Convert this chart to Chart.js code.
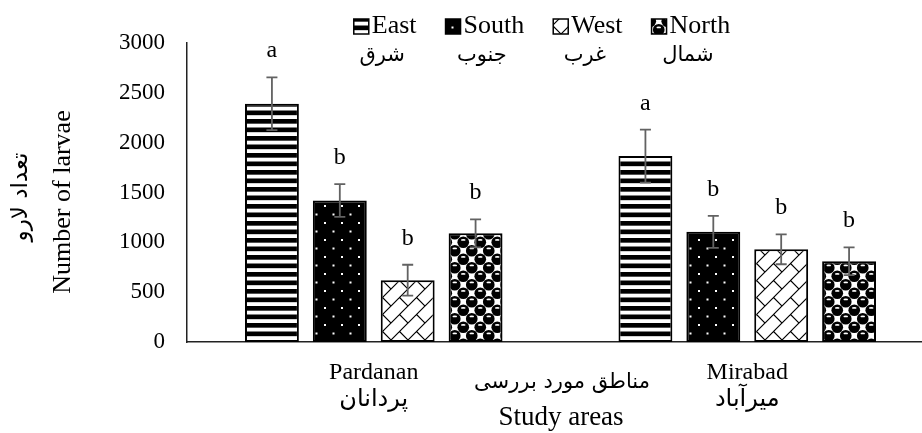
<!DOCTYPE html>
<html>
<head>
<meta charset="utf-8">
<script src="https://cdn.jsdelivr.net/npm/chart.js@4/dist/chart.umd.min.js"></script>
<style>
  html, body { margin: 0; padding: 0; background: #fff; overflow: hidden; }
  #wrap { width: 922px; height: 433px; overflow: hidden; position: relative; }
  canvas { display: block; }
</style>
</head>
<body>
<div id="wrap"><canvas id="c" width="934" height="433"></canvas></div>
<script>
// Larvae counts per study area and direction, with standard errors and significance letters
const categories = ['Pardanan', 'Mirabad'];
const categoriesFa = ['پردانان', 'میرآباد'];
const seriesNames = ['East', 'South', 'West', 'North'];
const seriesNamesFa = ['شرق', 'جنوب', 'غرب', 'شمال'];

const east = [2390, 1865];
const south = [1420, 1105];
const west = [620, 930];
const north = [1090, 810];

const eastErr = [265, 265];
const southErr = [165, 160];
const westErr = [155, 150];
const northErr = [140, 140];

const eastSig = ['a', 'a'];
const southSig = ['b', 'b'];
const westSig = ['b', 'b'];
const northSig = ['b', 'b'];

const yMin = 0, yMax = 3000, yStep = 500;

const yTitle = 'Number of larvae';
const yTitleFa = 'تعداد لارو';
const xTitle = 'Study areas';
const xTitleFa = 'مناطق مورد بررسی';

const SERIF = '"Liberation Serif", "Times New Roman", serif';
const FA = '"DejaVu Sans", "Liberation Serif", sans-serif';

// ---- fill patterns (8x8 style tiles drawn at ~2.1x) ----
const T = 17, U = T / 8;
function tile(draw) {
  const c = document.createElement('canvas');
  c.width = T; c.height = T;
  const g = c.getContext('2d');
  draw(g);
  return document.getElementById('c').getContext('2d').createPattern(c, 'repeat');
}
const patStripes = tile(g => {
  g.fillStyle = '#fff'; g.fillRect(0, 0, T, T);
  g.fillStyle = '#000';
  g.fillRect(0, 0, T, 2.2 * U);
  g.fillRect(0, 4 * U, T, 2.2 * U);
});
const patDots = tile(g => {
  g.fillStyle = '#000'; g.fillRect(0, 0, T, T);
  g.fillStyle = '#fff';
  g.fillRect(1, 1, 2, 2);
  g.fillRect(1 + 4 * U, 1 + 4 * U, 2, 2);
});
const patBrick = tile(g => {
  g.fillStyle = '#fff'; g.fillRect(0, 0, T, T);
  g.strokeStyle = '#000'; g.lineWidth = 1.2; g.lineCap = 'square';
  g.beginPath();
  // long upward diagonals
  g.moveTo(0, T); g.lineTo(T, 0);
  g.moveTo(-T / 2, T / 2); g.lineTo(T / 2, -T / 2);
  g.moveTo(T / 2, T + T / 2); g.lineTo(T + T / 2, T / 2);
  // short cross segments
  g.moveTo(T / 2, T / 2); g.lineTo(T, T);
  g.moveTo(0, 0); g.lineTo(-T / 2, -T / 2);
  g.stroke();
});
const patSphere = tile(g => {
  g.fillStyle = '#fff'; g.fillRect(0, 0, T, T);
  const base = [[2 * U, 2 * U], [6 * U, 6 * U]];
  const centres = [];
  base.forEach(([x, y]) => [-T, 0, T].forEach(dx => [-T, 0, T].forEach(dy => centres.push([x + dx, y + dy]))));
  g.fillStyle = '#000';
  centres.forEach(([x, y]) => { g.beginPath(); g.arc(x, y, 2.75 * U, 0, Math.PI * 2); g.fill(); });
  g.fillStyle = '#fff';
  centres.forEach(([x, y]) => { g.beginPath(); g.ellipse(x, y - 1.1 * U, 1.1 * U, 0.4 * U, 0, 0, Math.PI * 2); g.fill(); });
});
const patterns = [patStripes, patDots, patBrick, patSphere];

const seriesValues = [east, south, west, north];
const seriesErrors = [eastErr, southErr, westErr, northErr];
const seriesSig = [eastSig, southSig, westSig, northSig];

// Error bars with caps plus significance letters above them
const errorBars = {
  id: 'errorBars',
  afterDatasetsDraw(chart) {
    const ctx = chart.ctx, ys = chart.scales.y;
    ctx.save();
    chart.data.datasets.forEach((ds, k) => {
      const meta = chart.getDatasetMeta(k);
      meta.data.forEach((el, i) => {
        const v = seriesValues[k][i], e = seriesErrors[k][i];
        const yt = ys.getPixelForValue(v + e), yb = ys.getPixelForValue(v - e);
        ctx.strokeStyle = '#626262'; ctx.lineWidth = 1.8;
        ctx.beginPath();
        ctx.moveTo(el.x, yt); ctx.lineTo(el.x, yb);
        ctx.moveTo(el.x - 5.5, yt); ctx.lineTo(el.x + 5.5, yt);
        ctx.moveTo(el.x - 5.5, yb); ctx.lineTo(el.x + 5.5, yb);
        ctx.stroke();
        ctx.fillStyle = '#000';
        ctx.font = '24px ' + SERIF;
        ctx.textAlign = 'center'; ctx.textBaseline = 'alphabetic';
        ctx.fillText(seriesSig[k][i], el.x, yt - 20);
      });
    });
    ctx.restore();
  }
};

// Bilingual legend and axis titles
const decorations = {
  id: 'decorations',
  afterDraw(chart) {
    const ctx = chart.ctx;
    ctx.save();
    ctx.fillStyle = '#000';
    // legend
    ctx.font = '26px ' + SERIF;
    const box = 15, gap = 3, itemGap = 29;
    const widths = seriesNames.map(n => ctx.measureText(n).width);
    const total = widths.reduce((a, w) => a + box + gap + w, 0) + itemGap * (seriesNames.length - 1);
    let x = 542 - total / 2;
    seriesNames.forEach((n, k) => {
      const itemW = box + gap + widths[k];
      ctx.fillStyle = patterns[k];
      ctx.fillRect(x, 19, box, box);
      ctx.strokeStyle = '#000'; ctx.lineWidth = 1.5;
      ctx.strokeRect(x, 19, box, box);
      ctx.fillStyle = '#000';
      ctx.font = '26px ' + SERIF;
      ctx.textAlign = 'left'; ctx.textBaseline = 'alphabetic';
      ctx.fillText(n, x + box + gap, 33);
      ctx.font = '21px ' + FA;
      ctx.textAlign = 'center'; ctx.textBaseline = 'middle';
      ctx.fillText(seriesNamesFa[k], x + itemW / 2 - 3, 56);
      x += itemW + itemGap;
    });
    // y title (rotated)
    ctx.textAlign = 'center'; ctx.textBaseline = 'middle';
    ctx.save();
    ctx.translate(63, 202); ctx.rotate(-Math.PI / 2);
    ctx.font = '26px ' + SERIF;
    ctx.fillText(yTitle, 0, 0);
    ctx.restore();
    ctx.save();
    ctx.translate(21, 197); ctx.rotate(-Math.PI / 2);
    ctx.font = '23px ' + FA;
    ctx.fillText(yTitleFa, 0, 0);
    ctx.restore();
    // x title
    ctx.font = '21px ' + FA;
    ctx.fillText(xTitleFa, 562, 383);
    ctx.font = '27px ' + SERIF;
    ctx.fillText(xTitle, 561, 418);
    ctx.restore();
  }
};

new Chart(document.getElementById('c'), {
  type: 'bar',
  data: {
    labels: categories.map((c, i) => [c, categoriesFa[i]]),
    datasets: seriesNames.map((name, k) => ({
      label: name,
      data: seriesValues[k],
      backgroundColor: patterns[k],
      borderColor: '#000',
      borderWidth: 2,
      borderSkipped: false,
      categoryPercentage: 0.727,
      barPercentage: 0.794
    }))
  },
  options: {
    responsive: false,
    animation: false,
    devicePixelRatio: 1,
    layout: { padding: { top: 43, left: 0, right: 0, bottom: 0 } },
    plugins: { legend: { display: false }, tooltip: { enabled: false } },
    scales: {
      x: {
        grid: { display: false, drawTicks: false },
        border: { display: true, color: '#222', width: 1.5 },
        ticks: {
          color: '#000', padding: 18, maxRotation: 0, autoSkip: false,
          font: { family: SERIF + ', "DejaVu Sans"', size: 24, lineHeight: 1.1 }
        },
        afterFit(s) { s.height = 91; }
      },
      y: {
        min: yMin, max: yMax,
        grid: { display: false, drawTicks: false },
        border: { display: true, color: '#222', width: 1.5 },
        ticks: {
          stepSize: yStep, color: '#000', padding: 22,
          font: { family: SERIF, size: 23 },
          callback: (v) => String(v)
        },
        afterFit(s) { s.width = 187; }
      }
    }
  },
  plugins: [errorBars, decorations]
});
</script>
</body>
</html>
